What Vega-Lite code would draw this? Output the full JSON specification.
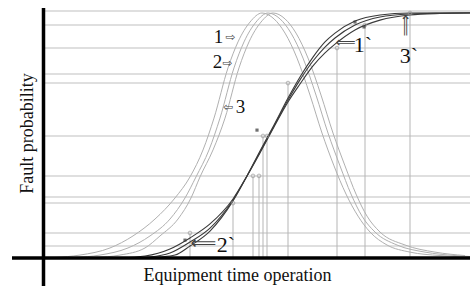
{
  "$schema": "https://vega.github.io/schema/vega-lite/v6.json",
  "width": 427,
  "height": 258,
  "autosize": {"type": "none"},
  "padding": {"left": 43, "top": 0, "right": 0, "bottom": 28},
  "background": "white",
  "config": {
    "view": {"stroke": null},
    "axis": {"domain": false, "ticks": false, "labels": false, "grid": false, "titleFont": "Liberation Serif", "titleFontSize": 18, "titleFontWeight": "normal", "titleColor": "#111111"}
  },
  "datasets": {
    "hlines": [
      {"p": 1.008, "t0": 0.2, "t1": 42.7}, {"p": 0.951, "t0": 0.2, "t1": 42.7}, {"p": 0.857, "t0": 0.2, "t1": 42.7},
      {"p": 0.751, "t0": 0.2, "t1": 42.7}, {"p": 0.714, "t0": 0.2, "t1": 42.7}, {"p": 0.498, "t0": 0.2, "t1": 42.7},
      {"p": 0.335, "t0": 0.2, "t1": 42.7}, {"p": 0.249, "t0": 0.2, "t1": 42.7}, {"p": 0.224, "t0": 0.2, "t1": 42.7},
      {"p": 0.102, "t0": 0.2, "t1": 42.7}, {"p": 0.049, "t0": 0.2, "t1": 42.7}
    ],
    "vlines": [
      {"t": 14.7, "p": 0.102}, {"t": 19.0, "p": 0.224}, {"t": 21.0, "p": 0.335}, {"t": 21.6, "p": 0.335},
      {"t": 22.0, "p": 0.498}, {"t": 22.4, "p": 0.498}, {"t": 24.5, "p": 0.714}, {"t": 29.4, "p": 0.857},
      {"t": 32.2, "p": 0.951}, {"t": 36.7, "p": 1.0}
    ],
    "bells": [
      {"c": "1", "t": 1.2, "p": 0.002}, {"c": "1", "t": 3.7, "p": 0.012}, {"c": "1", "t": 6.7, "p": 0.041}, {"c": "1", "t": 9.0, "p": 0.090},
      {"c": "1", "t": 11.2, "p": 0.159}, {"c": "1", "t": 13.2, "p": 0.245}, {"c": "1", "t": 14.7, "p": 0.331}, {"c": "1", "t": 16.0, "p": 0.441},
      {"c": "1", "t": 17.1, "p": 0.571}, {"c": "1", "t": 18.5, "p": 0.776}, {"c": "1", "t": 19.5, "p": 0.882}, {"c": "1", "t": 20.7, "p": 0.963},
      {"c": "1", "t": 21.9, "p": 1.0}, {"c": "1", "t": 23.1, "p": 0.976}, {"c": "1", "t": 24.2, "p": 0.918}, {"c": "1", "t": 25.4, "p": 0.816},
      {"c": "1", "t": 26.7, "p": 0.665}, {"c": "1", "t": 27.9, "p": 0.510}, {"c": "1", "t": 29.1, "p": 0.376}, {"c": "1", "t": 30.3, "p": 0.261},
      {"c": "1", "t": 31.5, "p": 0.171}, {"c": "1", "t": 32.7, "p": 0.106}, {"c": "1", "t": 34.4, "p": 0.053}, {"c": "1", "t": 36.7, "p": 0.024},
      {"c": "1", "t": 39.7, "p": 0.010}, {"c": "1", "t": 42.7, "p": 0.004},
      {"c": "2", "t": 3.2, "p": 0.002}, {"c": "2", "t": 5.7, "p": 0.012}, {"c": "2", "t": 8.5, "p": 0.041}, {"c": "2", "t": 10.7, "p": 0.090},
      {"c": "2", "t": 12.7, "p": 0.159}, {"c": "2", "t": 14.2, "p": 0.245}, {"c": "2", "t": 15.3, "p": 0.331}, {"c": "2", "t": 16.6, "p": 0.441},
      {"c": "2", "t": 17.7, "p": 0.571}, {"c": "2", "t": 19.1, "p": 0.776}, {"c": "2", "t": 20.1, "p": 0.882}, {"c": "2", "t": 21.3, "p": 0.963},
      {"c": "2", "t": 22.5, "p": 1.0}, {"c": "2", "t": 23.7, "p": 0.976}, {"c": "2", "t": 24.8, "p": 0.918}, {"c": "2", "t": 26.0, "p": 0.816},
      {"c": "2", "t": 27.3, "p": 0.665}, {"c": "2", "t": 28.5, "p": 0.510}, {"c": "2", "t": 29.7, "p": 0.376}, {"c": "2", "t": 30.8, "p": 0.261},
      {"c": "2", "t": 31.9, "p": 0.171}, {"c": "2", "t": 33.2, "p": 0.106}, {"c": "2", "t": 35.4, "p": 0.053}, {"c": "2", "t": 38.2, "p": 0.024},
      {"c": "2", "t": 41.2, "p": 0.010}, {"c": "2", "t": 42.7, "p": 0.006},
      {"c": "3", "t": 5.2, "p": 0.002}, {"c": "3", "t": 7.7, "p": 0.012}, {"c": "3", "t": 10.2, "p": 0.041}, {"c": "3", "t": 11.7, "p": 0.090},
      {"c": "3", "t": 13.5, "p": 0.159}, {"c": "3", "t": 14.8, "p": 0.245}, {"c": "3", "t": 15.7, "p": 0.331}, {"c": "3", "t": 17.0, "p": 0.441},
      {"c": "3", "t": 18.2, "p": 0.571}, {"c": "3", "t": 19.6, "p": 0.776}, {"c": "3", "t": 20.6, "p": 0.882}, {"c": "3", "t": 21.8, "p": 0.963},
      {"c": "3", "t": 23.0, "p": 1.0}, {"c": "3", "t": 24.2, "p": 0.976}, {"c": "3", "t": 25.3, "p": 0.918}, {"c": "3", "t": 26.5, "p": 0.816},
      {"c": "3", "t": 27.8, "p": 0.665}, {"c": "3", "t": 29.0, "p": 0.510}, {"c": "3", "t": 30.2, "p": 0.376}, {"c": "3", "t": 31.3, "p": 0.261},
      {"c": "3", "t": 32.4, "p": 0.171}, {"c": "3", "t": 33.7, "p": 0.106}, {"c": "3", "t": 36.2, "p": 0.053}, {"c": "3", "t": 39.2, "p": 0.024},
      {"c": "3", "t": 42.2, "p": 0.010}
    ],
    "scurves": [
      {"c": "a", "t": 7.7, "p": 0}, {"c": "a", "t": 10.2, "p": 0.008}, {"c": "a", "t": 12.7, "p": 0.037}, {"c": "a", "t": 14.7, "p": 0.082},
      {"c": "a", "t": 16.7, "p": 0.139}, {"c": "a", "t": 19.0, "p": 0.241}, {"c": "a", "t": 20.4, "p": 0.335}, {"c": "a", "t": 21.7, "p": 0.429},
      {"c": "a", "t": 23.1, "p": 0.535}, {"c": "a", "t": 24.5, "p": 0.637}, {"c": "a", "t": 25.7, "p": 0.710}, {"c": "a", "t": 27.0, "p": 0.784},
      {"c": "a", "t": 28.2, "p": 0.837}, {"c": "a", "t": 29.2, "p": 0.873}, {"c": "a", "t": 31.2, "p": 0.931}, {"c": "a", "t": 33.7, "p": 0.971},
      {"c": "a", "t": 36.7, "p": 0.992}, {"c": "a", "t": 39.7, "p": 0.998}, {"c": "a", "t": 42.7, "p": 1.0},
      {"c": "b", "t": 8.7, "p": 0}, {"c": "b", "t": 10.7, "p": 0.004}, {"c": "b", "t": 12.7, "p": 0.020}, {"c": "b", "t": 14.7, "p": 0.065},
      {"c": "b", "t": 16.7, "p": 0.122}, {"c": "b", "t": 19.0, "p": 0.237}, {"c": "b", "t": 20.4, "p": 0.335}, {"c": "b", "t": 21.7, "p": 0.433},
      {"c": "b", "t": 23.1, "p": 0.539}, {"c": "b", "t": 24.5, "p": 0.645}, {"c": "b", "t": 25.7, "p": 0.727}, {"c": "b", "t": 27.0, "p": 0.804},
      {"c": "b", "t": 28.2, "p": 0.861}, {"c": "b", "t": 29.2, "p": 0.898}, {"c": "b", "t": 31.2, "p": 0.951}, {"c": "b", "t": 33.7, "p": 0.984},
      {"c": "b", "t": 36.7, "p": 0.996}, {"c": "b", "t": 39.7, "p": 0.999}, {"c": "b", "t": 42.7, "p": 1.0},
      {"c": "c", "t": 9.7, "p": 0}, {"c": "c", "t": 11.7, "p": 0.004}, {"c": "c", "t": 13.2, "p": 0.012}, {"c": "c", "t": 14.7, "p": 0.049},
      {"c": "c", "t": 16.7, "p": 0.110}, {"c": "c", "t": 19.0, "p": 0.233}, {"c": "c", "t": 20.4, "p": 0.335}, {"c": "c", "t": 21.7, "p": 0.437},
      {"c": "c", "t": 23.1, "p": 0.543}, {"c": "c", "t": 24.5, "p": 0.653}, {"c": "c", "t": 25.7, "p": 0.739}, {"c": "c", "t": 27.0, "p": 0.820},
      {"c": "c", "t": 28.2, "p": 0.882}, {"c": "c", "t": 29.2, "p": 0.918}, {"c": "c", "t": 31.2, "p": 0.967}, {"c": "c", "t": 33.7, "p": 0.992},
      {"c": "c", "t": 36.7, "p": 1.0}, {"c": "c", "t": 42.7, "p": 1.001}
    ],
    "blobs": [
      {"t": 21.4, "p": 0.522}, {"t": 14.2, "p": 0.073}, {"t": 31.2, "p": 0.963}, {"t": 32.1, "p": 0.943}
    ]
  },
  "layer": [
    {
      "data": {"name": "hlines"},
      "mark": {"type": "rule", "color": "#d4d4d4", "strokeWidth": 1.5},
      "encoding": {
        "x": {"field": "t0", "type": "quantitative", "scale": {"domain": [0, 42.7], "nice": false, "zero": false},
              "axis": {"title": "Equipment time operation", "titleX": 194, "titleY": 22, "titleBaseline": "alphabetic", "titleAlign": "center"}},
        "x2": {"field": "t1"},
        "y": {"field": "p", "type": "quantitative", "scale": {"domain": [0, 1.05306], "nice": false, "zero": false},
              "axis": {"title": "Fault probability", "titleX": -11, "titleY": 133, "titleAngle": 270, "titleBaseline": "alphabetic", "titleAlign": "center"}}
      }
    },
    {
      "data": {"name": "vlines"},
      "mark": {"type": "rule", "color": "#b5b5b5", "strokeWidth": 1},
      "encoding": {
        "x": {"field": "t", "type": "quantitative"},
        "y": {"field": "p", "type": "quantitative"},
        "y2": {"datum": 0}
      }
    },
    {
      "data": {"name": "bells"},
      "mark": {"type": "line", "color": "#b0b0b0", "strokeWidth": 1, "interpolate": "monotone"},
      "encoding": {
        "x": {"field": "t", "type": "quantitative"},
        "y": {"field": "p", "type": "quantitative"},
        "detail": {"field": "c"}
      }
    },
    {
      "data": {"name": "scurves"},
      "mark": {"type": "line", "color": "#3a3a3a", "strokeWidth": 1.1, "interpolate": "monotone"},
      "encoding": {
        "x": {"field": "t", "type": "quantitative"},
        "y": {"field": "p", "type": "quantitative"},
        "detail": {"field": "c"}
      }
    },
    {
      "data": {"name": "vlines"},
      "mark": {"type": "point", "color": "#999999", "size": 14, "strokeWidth": 1, "filled": false},
      "encoding": {
        "x": {"field": "t", "type": "quantitative"},
        "y": {"field": "p", "type": "quantitative"}
      }
    },
    {
      "data": {"name": "blobs"},
      "mark": {"type": "point", "shape": "square", "color": "#333333", "size": 10, "filled": true},
      "encoding": {
        "x": {"field": "t", "type": "quantitative"},
        "y": {"field": "p", "type": "quantitative"}
      }
    },
    {
      "data": {"values": [{"t": 0.05, "p0": -0.1143, "p1": 1.0204}]},
      "mark": {"type": "rule", "color": "#000000", "strokeWidth": 3.5},
      "encoding": {
        "x": {"field": "t", "type": "quantitative"},
        "y": {"field": "p0", "type": "quantitative"},
        "y2": {"field": "p1"}
      }
    },
    {
      "data": {"values": [{"p": 0, "t0": -3.1, "t1": 42.7}]},
      "mark": {"type": "rule", "color": "#000000", "strokeWidth": 3.5},
      "encoding": {
        "y": {"field": "p", "type": "quantitative"},
        "x": {"field": "t0", "type": "quantitative"},
        "x2": {"field": "t1"}
      }
    },
    {
      "data": {"values": [{"s": "1", "t": 17.55, "p": 0.902}, {"s": "2", "t": 17.45, "p": 0.798}, {"s": "3", "t": 19.75, "p": 0.618}]},
      "mark": {"type": "text", "font": "Liberation Serif", "fontSize": 19, "color": "#111111", "align": "center", "baseline": "middle"},
      "encoding": {
        "x": {"field": "t", "type": "quantitative"},
        "y": {"field": "p", "type": "quantitative"},
        "text": {"field": "s"}
      }
    },
    {
      "data": {"values": [{"s": "1`", "t": 32.0, "p": 0.869}, {"s": "3`", "t": 36.6, "p": 0.824}, {"s": "2`", "t": 18.3, "p": 0.055}]},
      "mark": {"type": "text", "font": "Liberation Serif", "fontSize": 22, "color": "#111111", "align": "center", "baseline": "middle"},
      "encoding": {
        "x": {"field": "t", "type": "quantitative"},
        "y": {"field": "p", "type": "quantitative"},
        "text": {"field": "s"}
      }
    },
    {
      "data": {"values": [{"s": "⇨", "t": 18.75, "p": 0.902}, {"s": "⇨", "t": 18.45, "p": 0.796}, {"s": "⇦", "t": 18.5, "p": 0.616}]},
      "mark": {"type": "text", "font": "DejaVu Sans", "fontSize": 12, "color": "#444444", "align": "center", "baseline": "middle"},
      "encoding": {
        "x": {"field": "t", "type": "quantitative"},
        "y": {"field": "p", "type": "quantitative"},
        "text": {"field": "s"}
      }
    },
    {
      "data": {"values": [{"s": "⟸", "t": 30.25, "p": 0.878}]},
      "mark": {"type": "text", "font": "DejaVu Sans", "fontSize": 14, "color": "#444444", "align": "center", "baseline": "middle"},
      "encoding": {
        "x": {"field": "t", "type": "quantitative"},
        "y": {"field": "p", "type": "quantitative"},
        "text": {"field": "s"}
      }
    },
    {
      "data": {"values": [{"s": "⟸", "t": 16.05, "p": 0.057}]},
      "mark": {"type": "text", "font": "DejaVu Sans", "fontSize": 18, "color": "#444444", "align": "center", "baseline": "middle"},
      "encoding": {
        "x": {"field": "t", "type": "quantitative"},
        "y": {"field": "p", "type": "quantitative"},
        "text": {"field": "s"}
      }
    },
    {
      "data": {"values": [{"s": "⟸", "t": 36.3, "p": 0.949}]},
      "mark": {"type": "text", "font": "DejaVu Sans", "fontSize": 15, "color": "#444444", "align": "center", "baseline": "middle", "angle": 90},
      "encoding": {
        "x": {"field": "t", "type": "quantitative"},
        "y": {"field": "p", "type": "quantitative"},
        "text": {"field": "s"}
      }
    }
  ]
}
